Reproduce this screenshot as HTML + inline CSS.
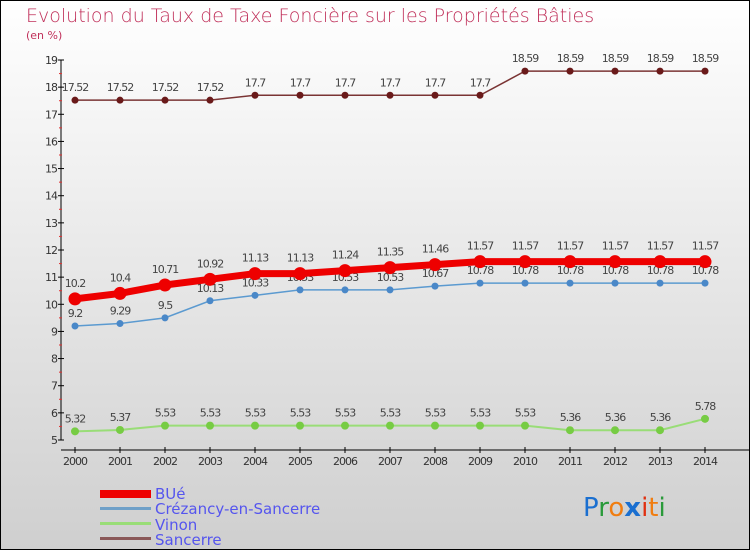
<!DOCTYPE html>
<html><head><meta charset="utf-8"><style>
body{margin:0;width:750px;height:550px;overflow:hidden;font-family:"DejaVu Sans","Liberation Sans",sans-serif}
svg{display:block}
</style></head><body>
<svg id="chart" width="750" height="550" xmlns="http://www.w3.org/2000/svg">
<defs><linearGradient id="bg" x1="0" y1="0" x2="0" y2="1"><stop offset="0" stop-color="#ffffff"/><stop offset="1" stop-color="#cfcfcf"/></linearGradient></defs>
<rect x="0.5" y="0.5" width="749" height="549" fill="url(#bg)" stroke="#000"/>
<text x="26" y="22" font-size="19" fill="#c0305a" style="font-weight:200">Evolution du Taux de Taxe Foncière sur les Propriétés Bâties</text>
<text x="26" y="39" font-size="11" fill="#c0305a">(en %)</text>
<g id="axes"></g><g id="series"></g>
<g font-size="15" fill="#5555ee">
<rect x="100" y="490" width="51" height="8" fill="#ee0000"/>
<text x="155" y="499">BUé</text>
<rect x="100" y="507" width="51" height="3" fill="#6fa0c8"/>
<text x="155" y="514">Crézancy-en-Sancerre</text>
<rect x="100" y="522" width="51" height="3" fill="#99dd77"/>
<text x="155" y="530">Vinon</text>
<rect x="100" y="537" width="51" height="3" fill="#8a5858"/>
<text x="155" y="545">Sancerre</text>
</g>
<g font-size="26" font-family="'DejaVu Sans',sans-serif">
<text x="583" y="516"><tspan fill="#1a6fd0">P</tspan><tspan fill="#2a9a3a">r</tspan><tspan fill="#f07d10">o</tspan><tspan fill="#1a6fd0" font-weight="bold">x</tspan><tspan fill="#e03010">i</tspan><tspan fill="#f07d10">t</tspan><tspan fill="#2a9a3a">i</tspan></text>
</g>
</svg>
<script>
const years=[2000,2001,2002,2003,2004,2005,2006,2007,2008,2009,2010,2011,2012,2013,2014];
const yTicks=[5,6,7,8,9,10,11,12,13,14,15,16,17,18,19];
const bue=[10.2,10.4,10.71,10.92,11.13,11.13,11.24,11.35,11.46,11.57,11.57,11.57,11.57,11.57,11.57];
const crezancy=[9.2,9.29,9.5,10.13,10.33,10.53,10.53,10.53,10.67,10.78,10.78,10.78,10.78,10.78,10.78];
const vinon=[5.32,5.37,5.53,5.53,5.53,5.53,5.53,5.53,5.53,5.53,5.53,5.36,5.36,5.36,5.78];
const sancerre=[17.52,17.52,17.52,17.52,17.7,17.7,17.7,17.7,17.7,17.7,18.59,18.59,18.59,18.59,18.59];
const NS="http://www.w3.org/2000/svg";
const X=i=>75+i*45;
const Y=v=>440-(v-5)*(380/14);
function mk(tag,attrs,parent,txt){const e=document.createElementNS(NS,tag);for(const k in attrs)e.setAttribute(k,attrs[k]);if(txt!==undefined)e.textContent=txt;parent.appendChild(e);return e;}
const axes=document.getElementById('axes');
let e=mk('line',{x1:61,y1:60,x2:61,y2:440,stroke:'#000'},axes);


yTicks.forEach(t=>{
  mk('line',{x1:58,y1:Y(t),x2:64,y2:Y(t),stroke:'#000'},axes);
  if(t<19)mk('line',{x1:59,y1:Y(t+0.5),x2:62,y2:Y(t+0.5),stroke:'#e03030'},axes);
  const l=mk('text',{x:57,y:Y(t)+4,'font-size':11,fill:'#333','text-anchor':'end','letter-spacing':'-1'},axes,t);
  
  
});
e=mk('line',{x1:61,y1:450,x2:750,y2:450,stroke:'#000'},axes);


years.forEach((y,i)=>{
  mk('line',{x1:X(i),y1:447,x2:X(i),y2:453,stroke:'#000'},axes);
  const l=mk('text',{x:X(i),y:465,'font-size':11,fill:'#333','text-anchor':'middle','letter-spacing':'-1'},axes,y);
  
  
});
const sg=document.getElementById('series');
function series(vals,name,color,dot,w,r,labelDy){
  const g=mk('g',{},sg);
  
  
  const p=mk('polyline',{points:vals.map((v,i)=>X(i)+','+Y(v)).join(' '),fill:'none',stroke:color,'stroke-width':w},g);
  
  
  vals.forEach((v,i)=>{
    const c=mk('circle',{cx:X(i),cy:Y(v),r:r,fill:dot},g);
    
    
    const t=mk('text',{x:X(i),y:Y(v)+labelDy,'font-size':11,fill:'#444','text-anchor':'middle','letter-spacing':'-1'},g,v);
    
    
  });
}
series(sancerre,'sancerre','#7a3434','#6a1a1a',1.5,3.5,-9);
series(vinon,'vinon','#99dd77','#77cc44',2,4,-9);
series(crezancy,'crezancy','#5b9ad0','#4a88c8',1.5,3.5,-9);
series(bue,'bue','#ee0000','#ee0000',7,6.5,-12);
</script>
</body></html>
